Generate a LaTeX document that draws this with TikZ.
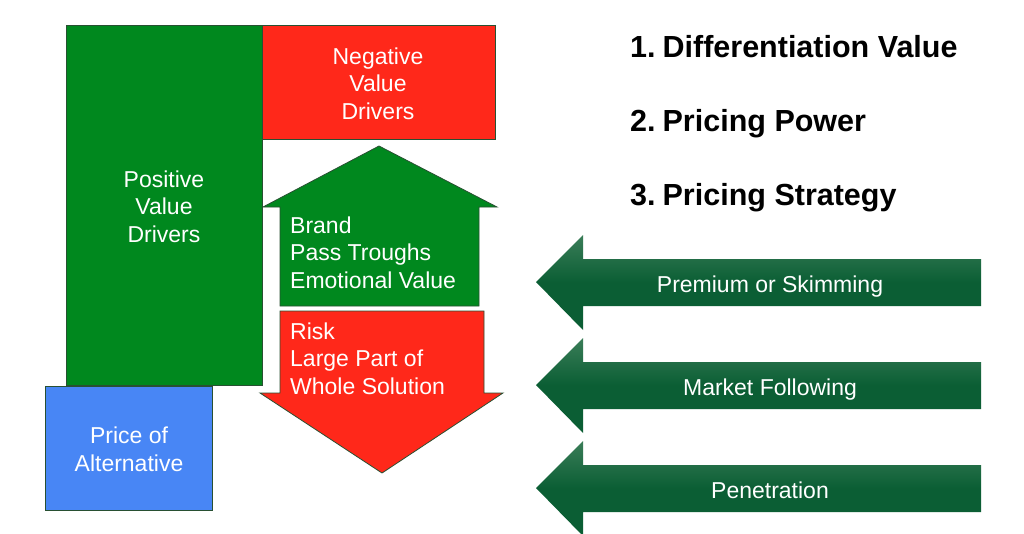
\documentclass[tikz,border=0pt]{standalone}
\usepackage{fontspec}
\setmainfont{Liberation Sans}
\definecolor{pgreen}{RGB}{0,136,30}
\definecolor{nred}{RGB}{255,40,26}
\definecolor{pblue}{RGB}{72,134,245}
\definecolor{dgreen}{RGB}{11,94,52}
\definecolor{dgreenlt}{RGB}{58,125,88}
\definecolor{edge}{RGB}{40,80,50}
\tikzset{
  boxshape/.style={draw=edge, line width=0.8pt, line join=miter},
  bodytext/.style={text=white, font=\fontsize{23}{27.5}\selectfont, inner sep=0pt, anchor=base},
  titletext/.style={text=black, font=\fontsize{30.5}{36}\selectfont\bfseries, inner sep=0pt, anchor=base west},
  darrow/.style={top color=dgreenlt, bottom color=dgreen, middle color=dgreen, draw=none},
}
\begin{document}
\begin{tikzpicture}[x=1pt,y=-1pt]
\useasboundingbox (0,0) rectangle (1024,533);
\fill[white] (0,0) rectangle (1024,533);

% left block
\draw[boxshape, fill=pgreen] (66,25) rectangle (262,385);
\draw[boxshape, fill=nred] (262,25) rectangle (495,139);
\draw[boxshape, fill=pgreen] (280,306) -- (280,207) -- (263,207) -- (379,146) -- (497,207) -- (479,207) -- (479,306) -- cycle;
\draw[boxshape, fill=nred] (280,311) -- (484,311) -- (484,393) -- (503,393) -- (382,473) -- (260,393) -- (280,393) -- cycle;
\draw[boxshape, fill=pblue] (45,386) rectangle (212,510);

% multi-line nodes: base anchor sits on the last line's baseline
\node[bodytext, align=center] (pos) at (164,242) {Positive\\Value\\Drivers};
\node[bodytext, align=center] (neg) at (378,119) {Negative\\Value\\Drivers};
\node[bodytext, align=left, anchor=base west] (brand) at (290,288) {Brand\\Pass Troughs\\Emotional Value};
\node[bodytext, align=left, anchor=base west] (risk) at (290,394) {Risk\\Large Part of\\Whole Solution};
\node[bodytext, align=center] (alt) at (129,471) {Price of\\Alternative};

% right arrows
\foreach \c/\nm/\txt in {282/prem/Premium or Skimming, 385/mark/Market Following, 488/pene/Penetration}{
  \shade[darrow] (536,\c) -- (583,\c-47) -- (583,\c-23) -- (981,\c-23) -- (981,\c+24) -- (583,\c+24) -- (583,\c+48) -- cycle;
  \node[bodytext] (\nm) at (770,\c+10) {\txt};
}

% titles
\node[titletext] (t1) at (630,57) {1.\hspace{7pt}Differentiation Value};
\node[titletext] (t2) at (630,131) {2.\hspace{7pt}Pricing Power};
\node[titletext] (t3) at (630,205) {3.\hspace{7pt}Pricing Strategy};
\end{tikzpicture}
\end{document}
